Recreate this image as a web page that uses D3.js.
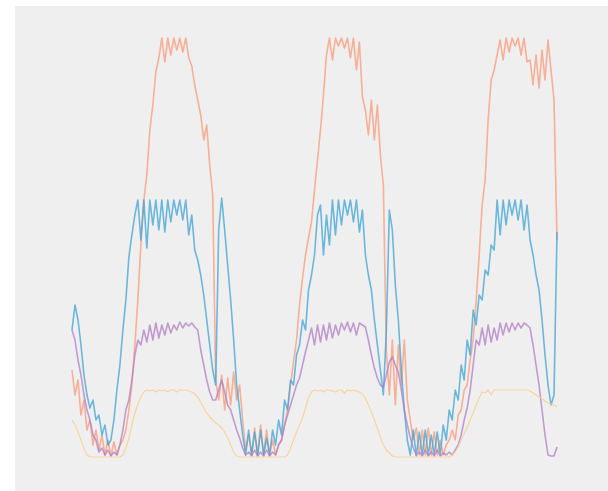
<!DOCTYPE html>
<meta charset="utf-8">
<style>
	body { margin: 0; background: #fff; }
	.series path {
	  fill: none;
	  stroke-width: 1.6px;
	  stroke-linejoin: round;
	}
</style>
<svg width="608" height="491"></svg>
<script src="https://d3js.org/d3.v7.min.js"></script>
<script>
	/**
	 *----------------------------------------------------------------------------
	 * data (163 samples, three daily cycles)
	 *----------------------------------------------------------------------------
	 **/
	var salmon = [87,62,77,42,57,27,37,12,27,7,
		22,2,17,1,15,2,12,17,27,47,
		72,112,157,212,257,282,327,352,385,399,
		419,395,419,402,419,407,419,405,419,399,
		391,372,357,342,317,332,292,262,77,57,
		82,47,79,52,85,57,72,37,7,22,
		2,29,2,32,3,27,2,17,2,12,
		17,32,47,72,95,117,152,179,202,219,
		235,267,297,327,362,402,419,397,419,411,
		419,409,419,399,419,387,415,360,347,322,
		357,317,352,302,272,107,62,117,52,112,
		72,117,57,37,17,29,2,27,2,29,
		2,25,2,17,2,12,17,27,17,42,
		47,67,72,97,117,157,202,252,277,337,
		377,387,402,417,397,419,405,419,411,419,
		402,419,395,397,372,402,369,407,377,417,
		387,357,217];
	var blue = [127,152,137,112,82,62,49,57,37,42,
		22,32,12,17,37,67,92,127,157,200,
		222,242,257,217,257,209,257,232,257,227,
		257,225,257,235,257,242,257,237,257,222,
		242,207,197,182,162,137,112,87,72,227,
		259,227,192,157,117,72,47,22,2,27,
		2,25,1,27,2,19,2,27,12,37,
		22,57,47,77,72,102,112,137,127,167,
		182,202,242,252,202,242,212,257,222,257,
		232,257,242,257,235,257,225,247,202,182,
		167,137,112,87,62,127,247,227,172,137,
		87,47,17,2,27,1,25,2,27,2,
		22,2,25,2,32,17,47,37,67,57,
		92,77,117,102,147,132,162,157,187,182,
		212,207,257,222,257,232,257,242,257,237,
		257,227,252,217,202,182,167,137,102,72,
		52,62,225];
	var purple = [127,117,97,82,62,47,37,22,17,5,
		9,2,7,1,5,2,12,27,47,57,
		77,102,117,112,127,115,132,117,134,119,
		132,122,134,124,132,127,135,129,134,131,
		134,130,127,107,92,77,65,57,57,67,
		77,65,52,47,37,27,19,9,2,5,
		1,7,1,5,1,7,1,5,2,12,
		17,32,42,52,62,72,79,92,105,117,
		129,112,132,115,132,117,134,119,132,122,
		134,127,135,125,134,122,134,132,130,117,
		102,89,79,72,70,82,95,100,92,85,
		67,47,32,19,9,2,5,1,7,1,
		5,1,7,1,4,2,5,2,7,12,
		22,37,49,67,92,117,112,129,112,132,
		115,129,117,134,122,134,125,134,127,134,
		129,134,132,129,112,92,72,47,22,2,
		1,1,10];
	var orange = [37,32,25,17,9,2,0,0,0,0,
		0,0,0,0,0,0,0,2,9,19,
		32,44,53,60,65,67,66,67,65,67,
		66,67,65,67,67,65,67,67,67,66,
		65,63,60,55,49,44,40,37,34,32,
		29,25,19,12,5,1,0,0,0,0,
		0,0,0,0,0,0,0,0,0,0,
		0,0,2,9,17,25,32,39,49,59,
		65,67,66,67,65,67,67,66,65,67,
		67,64,67,66,67,66,65,63,59,52,
		45,37,29,20,12,7,4,1,0,0,
		0,0,0,0,0,0,0,0,0,0,
		0,0,0,0,0,0,0,2,5,10,
		17,23,30,37,44,52,59,65,64,67,
		62,67,67,67,67,67,67,67,67,67,
		67,67,67,66,64,62,60,58,56,54,
		53,52,50];
	var seriesNames = ["salmon", "blue", "purple", "orange"];
	var seriesColors = ["#f99a78", "#3fa3d6", "#b27ec6", "#fbcf96"];
	var seriesValues = [salmon, blue, purple, orange];
	/**
	 *----------------------------------------------------------------------------
	 * definitions
	 *----------------------------------------------------------------------------
	 **/
	var svg = d3.select("svg");
	// panel
	svg.append("rect")
		.attr("x", 15)
		.attr("y", 6)
		.attr("width", 593)
		.attr("height", 485)
		.attr("fill", "#efefef");
	// soft edges like the reference
	var defs = svg.append("defs");
	defs.append("filter")
		.attr("id", "soft")
		.append("feGaussianBlur")
		.attr("stdDeviation", 0.45);
	// scales
	var x = d3.scaleLinear()
		.domain([0, salmon.length - 1])
		.range([72, 557]);
	var y = d3.scaleLinear()
		.domain([0, 419])
		.range([457, 38]);
	var line = d3.line()
		.x(function(d, i) { return x(i); })
		.y(function(d) { return y(d); });
	/**
	 *----------------------------------------------------------------------------
	 * lines
	 *----------------------------------------------------------------------------
	 **/
	var g = svg.append("g")
		.attr("class", "series")
		.attr("filter", "url(#soft)");
	g.selectAll("path")
		.data(seriesValues)
		.enter().append("path")
			.attr("class", function(d, i) { return seriesNames[i]; })
			.attr("d", line)
			.attr("stroke", function(d, i) { return seriesColors[i]; })
			.attr("stroke-opacity", function(d, i) { return i == 3 ? 0.9 : 0.75; })
			.style("stroke-width", function(d, i) { return i == 3 ? "1.2px" : "1.6px"; });
</script>
